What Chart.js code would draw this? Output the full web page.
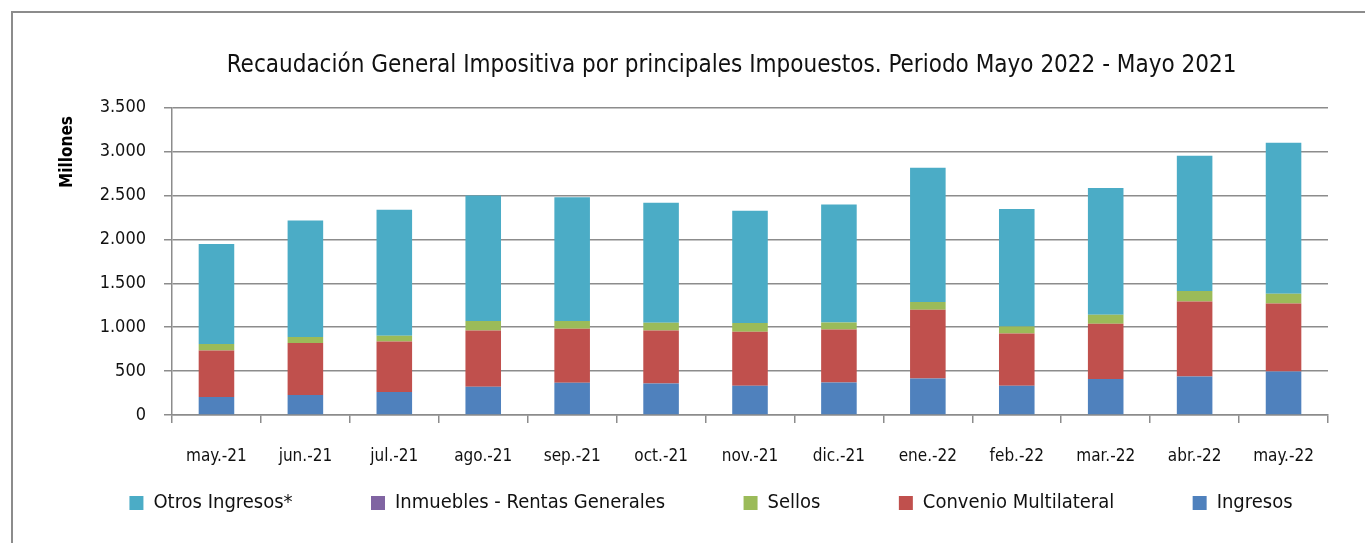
<!DOCTYPE html>
<html lang="es">
<head>
<meta charset="utf-8">
<title>Recaudación General Impositiva</title>
<script src="https://cdn.jsdelivr.net/npm/chart.js@4.4.1/dist/chart.umd.min.js"></script>
<style>
  html, body { margin: 0; padding: 0; background: #fff; overflow: hidden; }
  #marco {
    position: absolute; left: 11px; top: 11px;
    width: 1400px; height: 600px;
    border: 2px solid #8c8c8c;
  }
  #grafico { position: absolute; left: 0; top: 0; }
</style>
</head>
<body>
<div id="marco"></div>
<canvas id="grafico" width="1365" height="543"></canvas>
<script>
// Meses
const meses = ['may.-21', 'jun.-21', 'jul.-21', 'ago.-21', 'sep.-21', 'oct.-21', 'nov.-21',
  'dic.-21', 'ene.-22', 'feb.-22', 'mar.-22', 'abr.-22', 'may.-22'];

// Valores en millones
const ingresos = [205, 228, 262, 322, 368, 360, 334, 371, 417, 334, 410, 440, 496];
const convenio = [531, 592, 576, 642, 615, 604, 615, 604, 782, 595, 630, 854, 775];
const sellos = [72, 68, 65, 107, 88, 87, 99, 80, 88, 80, 102, 118, 110];
const inmuebles = [0, 0, 0, 0, 0, 0, 0, 0, 0, 0, 0, 0, 0];
const otros = [1139, 1329, 1435, 1430, 1410, 1367, 1279, 1344, 1530, 1337, 1443, 1541, 1720];

// Eje Y: 0 a 3.500 de 500 en 500
const yMin = 0;
const yMax = 3500;
const yPaso = 500;

const fuente = "'Liberation Sans Narrow', 'DejaVu Sans Condensed', 'Roboto Condensed', sans-serif";
const gris = '#8c8c8c';

// Formato 3.500
function formatoMiles(v) {
  return String(v).replace(/\B(?=(\d{3})+(?!\d))/g, '.');
}

// Texto vertical "Millones"
const tituloEjeY = {
  id: 'tituloEjeY',
  afterDraw(chart) {
    const ctx = chart.ctx;
    ctx.save();
    ctx.translate(68, 152);
    ctx.rotate(-Math.PI / 2);
    ctx.font = 'bold 17px ' + fuente;
    ctx.fillStyle = '#000';
    ctx.textAlign = 'center';
    ctx.textBaseline = 'middle';
    ctx.fillText('Millones', 0, 0);
    ctx.restore();
  }
};

// espacios para correr el titulo y separar los items de la leyenda
const sangriaTitulo = '      ';
const espacios = '         ';

new Chart(document.getElementById('grafico'), {
  type: 'bar',
  data: {
    labels: meses,
    datasets: [
      { label: 'Ingresos', data: ingresos, backgroundColor: '#4f81bd' },
      { label: 'Convenio Multilateral', data: convenio, backgroundColor: '#c0504d' },
      { label: 'Sellos', data: sellos, backgroundColor: '#9bbb59' },
      { label: 'Inmuebles - Rentas Generales', data: inmuebles, backgroundColor: '#8064a2' },
      { label: 'Otros Ingresos*', data: otros, backgroundColor: '#4bacc6' }
    ]
  },
  options: {
    responsive: false,
    animation: false,
    layout: { padding: { left: 94, right: 37, top: 0, bottom: 20 } },
    datasets: {
      bar: { barPercentage: 0.4, categoryPercentage: 1, borderWidth: 0 }
    },
    plugins: {
      title: {
        display: true,
        text: sangriaTitulo + 'Recaudación General Impositiva por principales Impouestos. Periodo Mayo 2022 - Mayo 2021',
        color: '#111',
        font: { family: fuente, size: 24, weight: 'normal' },
        padding: { top: 51, bottom: 28 }
      },
      legend: {
        position: 'bottom',
        reverse: true,
        labels: {
          color: '#111',
          font: { family: fuente, size: 20 },
          boxWidth: 14,
          boxHeight: 14,
          padding: 27,
          generateLabels(chart) {
            const items = Chart.defaults.plugins.legend.labels.generateLabels(chart);
            items.forEach(it => {
              if (it.text !== 'Ingresos') it.text = it.text + espacios;
            });
            return items;
          }
        }
      },
      tooltip: { enabled: false }
    },
    scales: {
      x: {
        stacked: true,
        afterFit(scale) { scale.height = 51; },
        grid: { display: true, drawOnChartArea: false, drawTicks: true, offset: true, tickLength: 8, color: gris, lineWidth: 1.5 },
        border: { display: true, color: gris, width: 1.5 },
        ticks: { color: '#111', font: { family: fuente, size: 17 }, padding: 23, maxRotation: 0 }
      },
      y: {
        stacked: true,
        min: yMin,
        max: yMax,
        afterFit(scale) { scale.width = 172 - 94; },
        grid: { color: gris, lineWidth: 1.5, tickLength: 8 },
        border: { display: true, color: gris, width: 1.5 },
        ticks: {
          stepSize: yPaso,
          color: '#111',
          font: { family: fuente, size: 18 },
          padding: 18,
          callback: v => formatoMiles(v)
        }
      }
    }
  },
  plugins: [tituloEjeY]
});
</script>
</body>
</html>
